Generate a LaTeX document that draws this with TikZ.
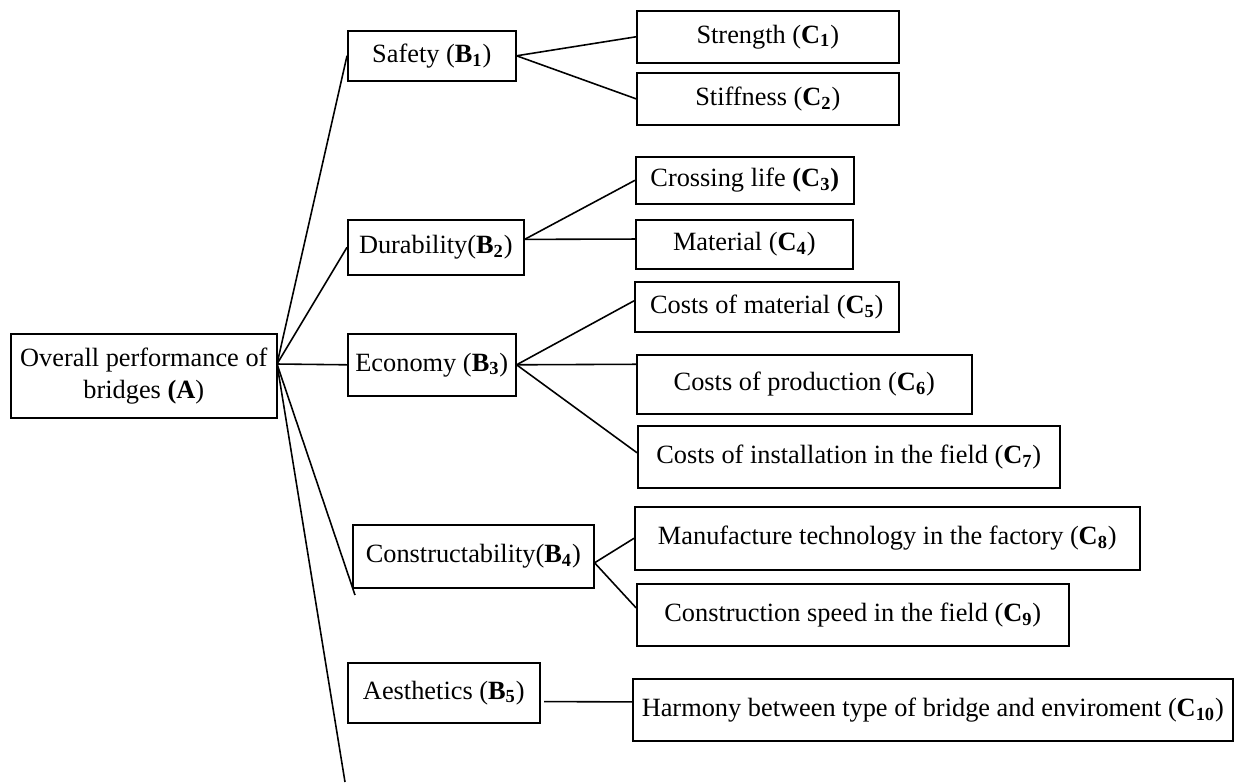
\documentclass[tikz,border=0pt]{standalone}
\usepackage{fontspec}
\setmainfont{Liberation Serif}

\begin{document}
\begin{tikzpicture}[x=0.02cm, y=-0.02cm, line width=0.9pt,
    crit/.style={draw, anchor=north west, inner sep=0pt, align=center,
      font=\fontsize{15}{18}\selectfont}]
  \def\u{0.02cm}
  \useasboundingbox (0,0) rectangle (1239,782);
  % goal
  \node[crit, minimum width=266*\u, minimum height=84*\u] (A) at (10,333)
    {Overall performance of\\bridges \textbf{(A})};
  \coordinate (hub) at (277,364);
  % criteria
  \node[crit, minimum width=168*\u, minimum height=50*\u] (B1) at (347,30) {Safety (\textbf{B\textsubscript{1}})};
  \node[crit, minimum width=176*\u, minimum height=55*\u] (B2) at (347,219) {Durability(\textbf{B\textsubscript{2}})};
  \node[crit, minimum width=168*\u, minimum height=62*\u] (B3) at (347,333) {Economy (\textbf{B\textsubscript{3}})};
  \node[crit, minimum width=241*\u, minimum height=63*\u] (B4) at (352,524) {Constructability(\textbf{B\textsubscript{4}})};
  \node[crit, minimum width=192*\u, minimum height=60*\u] (B5) at (347,662) {Aesthetics (\textbf{B\textsubscript{5}})};
  \coordinate (b4end) at (355,595);
  \coordinate (tail) at (345,782);
  % sub-criteria
  \node[crit, minimum width=262*\u, minimum height=52*\u] (C1) at (636,10) {Strength (\textbf{C\textsubscript{1}})};
  \node[crit, minimum width=262*\u, minimum height=52*\u] (C2) at (636,72) {Stiffness (\textbf{C\textsubscript{2}})};
  \node[crit, minimum width=218*\u, minimum height=47*\u] (C3) at (635,156) {Crossing life \textbf{(C\textsubscript{3})}};
  \node[crit, minimum width=217*\u, minimum height=49*\u] (C4) at (635,219) {Material (\textbf{C\textsubscript{4}})};
  \node[crit, minimum width=264*\u, minimum height=50*\u] (C5) at (634,281) {Costs of material (\textbf{C\textsubscript{5}})};
  \node[crit, minimum width=335*\u, minimum height=59*\u] (C6) at (636,354) {Costs of production (\textbf{C\textsubscript{6}})};
  \node[crit, minimum width=422*\u, minimum height=62*\u] (C7) at (637,425) {Costs of installation in the field (\textbf{C\textsubscript{7}})};
  \node[crit, minimum width=505*\u, minimum height=63*\u] (C8) at (634,506) {Manufacture technology in the factory (\textbf{C\textsubscript{8}})};
  \node[crit, minimum width=432*\u, minimum height=62*\u] (C9) at (636,583) {Construction speed in the field (\textbf{C\textsubscript{9}})};
  \node[crit, minimum width=600*\u, minimum height=62*\u] (C10) at (632,678) {Harmony between type of bridge and enviroment (\textbf{C\textsubscript{10}})};
  % links
  \draw (hub) -- (B1.west);
  \draw (hub) -- (B2.west);
  \draw (hub) -- (B3.west);
  \draw (hub) -- (b4end);
  \draw (hub) -- (tail);
  \draw (B1.east) -- (C1.west);
  \draw (B1.east) -- (C2.west);
  \draw ([yshift=4.5pt]B2.east) -- (C3.west);
  \draw ([yshift=4.5pt]B2.east) -- ([yshift=3pt]C4.west);
  \draw (B3.east) -- ([yshift=3.4pt]C5.west);
  \draw (B3.east) -- ([yshift=11.4pt]C6.west);
  \draw (B3.east) -- ([yshift=2.3pt]C7.west);
  \draw ([yshift=-3.7pt]B4.east) -- (C8.west);
  \draw ([yshift=-3.7pt]B4.east) -- ([yshift=4pt]C9.west);
  \draw ([xshift=2pt,yshift=-5pt]B5.east) -- ([yshift=4.5pt]C10.west);
\end{tikzpicture}
\end{document}
